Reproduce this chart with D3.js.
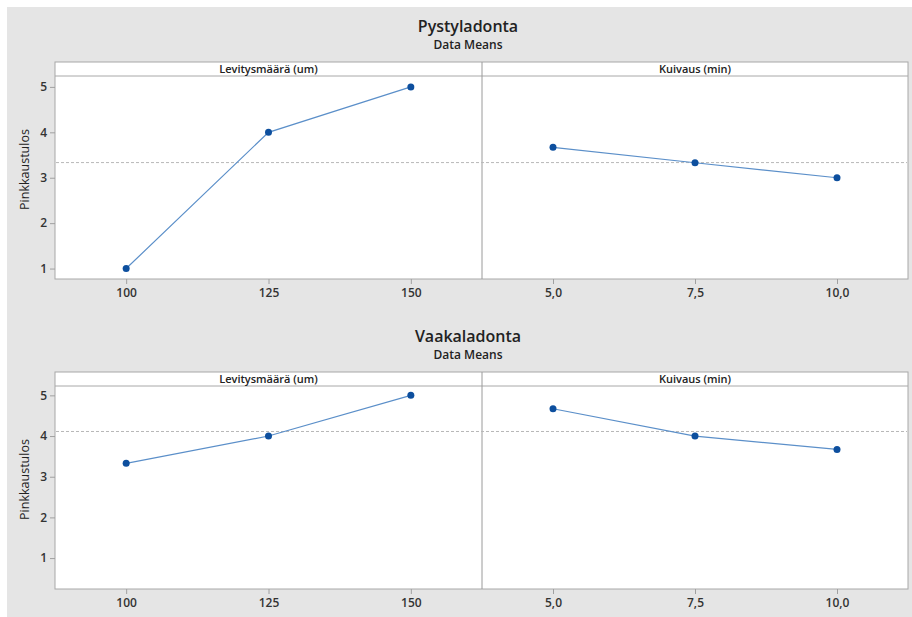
<!DOCTYPE html>
<html>
<head>
<meta charset="utf-8">
<script src="https://cdn.jsdelivr.net/npm/d3@7"></script>
<style>
  html, body { margin: 0; padding: 0; background: #ffffff; }
  svg { display: block; }
</style>
</head>
<body>
<div id="container"></div>
<script>
// --- data ---
var levitysLevels = ["100", "125", "150"];
var kuivausLevels = ["5,0", "7,5", "10,0"];
var factorNames = ["Levitysmäärä (um)", "Kuivaus (min)"];

var pystyLevitys = [1.0, 4.0, 5.0];
var pystyKuivaus = [3.67, 3.33, 3.0];
var vaakaLevitys = [3.33, 4.0, 5.0];
var vaakaKuivaus = [4.67, 4.0, 3.67];

var yTicks = [1, 2, 3, 4, 5];

var width = 912, height = 617;
var svg = d3.select("#container").append("svg")
    .attr("width", width)
    .attr("height", height)
    .style("font-family", "'Open Sans', 'Noto Sans', sans-serif");

// grey frame behind both plots
svg.append("rect")
    .attr("x", 7).attr("y", 7)
    .attr("width", width - 7).attr("height", height - 7)
    .attr("fill", "#e5e5e5");

var left = 55, mid = 482, right = 908;

function drawPanel(top, title, levData, kuiData, yDomain) {
    var boxTop = top, stripBottom = top + 14, plotBottom = top + 217;

    var y = d3.scaleLinear().domain(yDomain).range([plotBottom, stripBottom]);
    var xLev = d3.scalePoint().domain(levitysLevels).range([left, mid]).padding(0.5);
    var xKui = d3.scalePoint().domain(kuivausLevels).range([mid, right]).padding(0.5);

    var g = svg.append("g");

    // titles
    g.append("text")
        .attr("x", 468).attr("y", top - 30)
        .attr("text-anchor", "middle")
        .style("font-size", "16px").style("font-weight", 600)
        .attr("fill", "#222")
        .text(title);
    g.append("text")
        .attr("x", 468).attr("y", top - 13)
        .attr("text-anchor", "middle")
        .style("font-size", "12px").style("font-weight", 600)
        .attr("fill", "#222")
        .text("Data Means");

    // plot box
    g.append("rect")
        .attr("x", left).attr("y", boxTop)
        .attr("width", right - left).attr("height", plotBottom - boxTop)
        .attr("fill", "#ffffff")
        .attr("stroke", "#a8a8a8").attr("stroke-width", 1);
    g.append("line")
        .attr("x1", left).attr("x2", right)
        .attr("y1", stripBottom).attr("y2", stripBottom)
        .attr("stroke", "#a8a8a8");
    g.append("line")
        .attr("x1", mid).attr("x2", mid)
        .attr("y1", boxTop).attr("y2", plotBottom)
        .attr("stroke", "#9a9a9a");

    // strip labels
    [[left, mid], [mid, right]].forEach(function (r, i) {
        g.append("text")
            .attr("x", (r[0] + r[1]) / 2).attr("y", boxTop + 11)
            .attr("text-anchor", "middle")
            .style("font-size", "11px").style("font-weight", 600)
            .attr("fill", "#222")
            .text(factorNames[i]);
    });

    // mean reference line
    var allMean = d3.mean(levData.concat(kuiData));
    g.append("line")
        .attr("x1", left + 1).attr("x2", right - 1)
        .attr("y1", y(allMean)).attr("y2", y(allMean))
        .attr("stroke", "#b8b8b8")
        .attr("stroke-dasharray", "3,2");

    // y axis
    var yAxis = g.append("g")
        .attr("transform", "translate(" + left + ",0)")
        .call(d3.axisLeft(y).tickValues(yTicks).tickFormat(d3.format("d")).tickSize(5).tickPadding(3));
    yAxis.select(".domain").remove();
    yAxis.selectAll("line").attr("stroke", "#a0a0a0");
    yAxis.selectAll("text").style("font-size", "12px").style("font-weight", 600)
        .style("font-family", "'Open Sans', sans-serif")
        .attr("fill", "#333");

    // x axes
    [xLev, xKui].forEach(function (x) {
        var ax = g.append("g")
            .attr("transform", "translate(0," + plotBottom + ")")
            .call(d3.axisBottom(x).tickSize(5).tickPadding(4));
        ax.select(".domain").remove();
        ax.selectAll("line").attr("stroke", "#a0a0a0");
        ax.selectAll("text").style("font-size", "12px").style("font-weight", 600)
            .style("font-family", "'Open Sans', sans-serif")
            .attr("fill", "#333");
    });

    // y label
    g.append("text")
        .attr("transform", "translate(29," + ((stripBottom + plotBottom) / 2 - 8) + ") rotate(-90)")
        .attr("text-anchor", "middle")
        .style("font-size", "12.5px")
        .attr("fill", "#222")
        .text("Pinkkaustulos");

    // lines and points
    [[xLev, levitysLevels, levData], [xKui, kuivausLevels, kuiData]].forEach(function (s) {
        var x = s[0], cats = s[1], vals = s[2];
        var pts = cats.map(function (c, i) { return { c: c, v: vals[i] }; });
        g.append("path")
            .datum(pts)
            .attr("fill", "none")
            .attr("stroke", "#5b8fc9")
            .attr("stroke-width", 1.2)
            .attr("d", d3.line().x(function (d) { return x(d.c); }).y(function (d) { return y(d.v); }));
        g.selectAll(null)
            .data(pts)
            .enter()
            .append("circle")
            .attr("cx", function (d) { return x(d.c); })
            .attr("cy", function (d) { return y(d.v); })
            .attr("r", 3.5)
            .attr("fill", "#0d4f9e");
    });
}

drawPanel(62, "Pystyladonta", pystyLevitys, pystyKuivaus, [0.77, 5.24]);
drawPanel(372, "Vaakaladonta", vaakaLevitys, vaakaKuivaus, [0.24, 5.23]);
</script>
</body>
</html>
